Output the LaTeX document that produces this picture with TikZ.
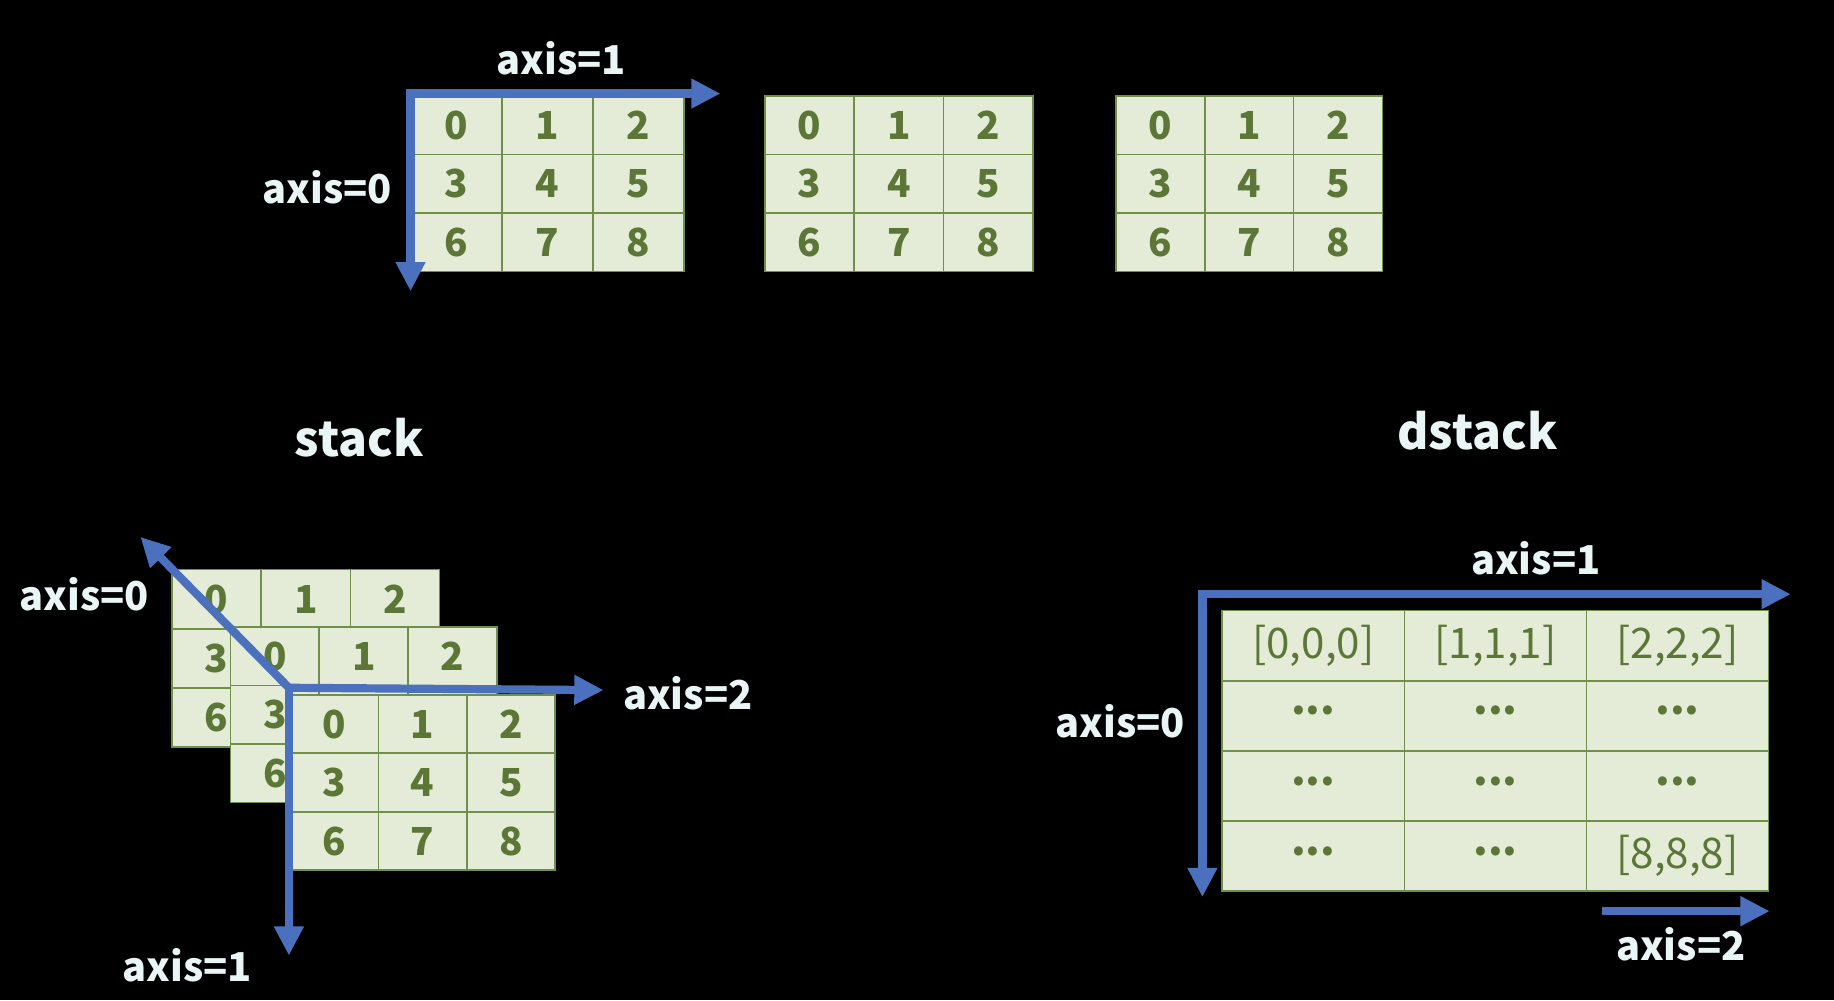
\documentclass[tikz,border=0pt]{standalone}
\usepackage{fontspec}
\setmainfont{Noto Sans CJK SC}
\usetikzlibrary{arrows.meta}
\definecolor{cellfill}{HTML}{E4ECD7}
\definecolor{cellline}{HTML}{6F8F4A}
\definecolor{celltext}{HTML}{5B7636}
\definecolor{axisblue}{HTML}{4A70BE}
\definecolor{labeltext}{HTML}{EAF6F5}
\tikzset{
  cell/.style={draw=cellline, fill=cellfill, line width=1.4pt, inner sep=0pt, text=celltext,
    font=\fontsize{33}{36}\selectfont\bfseries},
  bcell/.style={cell, font=\fontsize{36}{38}\selectfont},
  axisarrow/.style={draw=axisblue, line width=7pt, line join=miter,
    -{Triangle[length=25pt,width=24pt]}},
  axislabel/.style={text=labeltext, font=\fontsize{34}{38}\selectfont\bfseries, inner sep=0pt},
  title/.style={text=labeltext, font=\fontsize{41}{44}\selectfont\bfseries, inner sep=0pt}
}
\newcommand{\celldots}{\raisebox{9pt}{\bfseries...}}
\newcommand{\numgrid}[5]{%
  \foreach \r in {0,1,2}{\foreach \c in {0,1,2}{%
    \pgfmathtruncatemacro{\v}{3*\r+\c}%
    \node[cell, minimum width=#4pt, minimum height=#5pt] (#1-\v) at ({#2+(\c+0.5)*#4},{#3+(\r+0.5)*#5}) {\v};
  }}}
\begin{document}
\begin{tikzpicture}[x=1pt,y=-1pt]
\fill[black] (0,0) rectangle (1568,855);
\useasboundingbox (0,0) rectangle (1568,855);
% ---------- top row ----------
\numgrid{ga}{351}{82}{78}{50}
\numgrid{gb}{654}{82}{76.3}{50}
\numgrid{gc}{954}{82}{76}{50}
\coordinate (ta-corner) at (351,80);
\coordinate (ta-down) at (351,249);
\coordinate (ta-right) at (616,80);
\draw[axisarrow, {Triangle[length=25pt,width=24pt]}-{Triangle[length=25pt,width=24pt]}] (ta-down) -- (ta-corner) -- (ta-right);
\node[axislabel] (ta-l1) at (480,50) {axis=1};
\node[axislabel] (ta-l0) at (280,160) {axis=0};
% ---------- titles ----------
\node[title] (t-stack) at (307,374) {stack};
\node[title] (t-dstack) at (1263,368) {dstack};
% ---------- stack ----------
\numgrid{sa}{147}{487}{76.3}{50.5}
\numgrid{sb}{197}{536}{76}{50}
\coordinate (s-corner) at (247,588);
\coordinate (s-diag) at (120,459);
\draw[axisarrow] (s-corner) -- (s-diag);
\numgrid{sc}{248}{594}{75.5}{50}
\coordinate (s-right) at (516,590);
\coordinate (s-down) at (247,817);
\draw[axisarrow] (s-corner) -- (s-right);
\draw[axisarrow] (s-corner) -- (s-down);
\node[axislabel] (s-l0) at (72,508) {axis=0};
\node[axislabel] (s-l2) at (588,593) {axis=2};
\node[axislabel] (s-l1) at (160,825) {axis=1};
% ---------- dstack ----------
\foreach \r/\a/\b/\cc in {0/{[0,0,0]}/{[1,1,1]}/{[2,2,2]},1/\celldots/\celldots/\celldots,2/\celldots/\celldots/\celldots,3/\celldots/\celldots/{[8,8,8]}}{
  \node[bcell, minimum width=155.7pt, minimum height=60pt] (d-\r-0) at ({1045+0.5*155.7},{522+(\r+0.5)*60}) {\a};
  \node[bcell, minimum width=155.7pt, minimum height=60pt] (d-\r-1) at ({1045+1.5*155.7},{522+(\r+0.5)*60}) {\b};
  \node[bcell, minimum width=155.7pt, minimum height=60pt] (d-\r-2) at ({1045+2.5*155.7},{522+(\r+0.5)*60}) {\cc};
}
\coordinate (d-corner) at (1028,508);
\coordinate (d-down) at (1028,767);
\coordinate (d-right) at (1531,508);
\draw[axisarrow, {Triangle[length=25pt,width=24pt]}-{Triangle[length=25pt,width=24pt]}] (d-down) -- (d-corner) -- (d-right);
\coordinate (d2-start) at (1370,779);
\coordinate (d2-end) at (1513,779);
\draw[axisarrow] (d2-start) -- (d2-end);
\node[axislabel] (d-l1) at (1313,477) {axis=1};
\node[axislabel] (d-l0) at (958,617) {axis=0};
\node[axislabel] (d-l2) at (1437,807) {axis=2};
\end{tikzpicture}
\end{document}
